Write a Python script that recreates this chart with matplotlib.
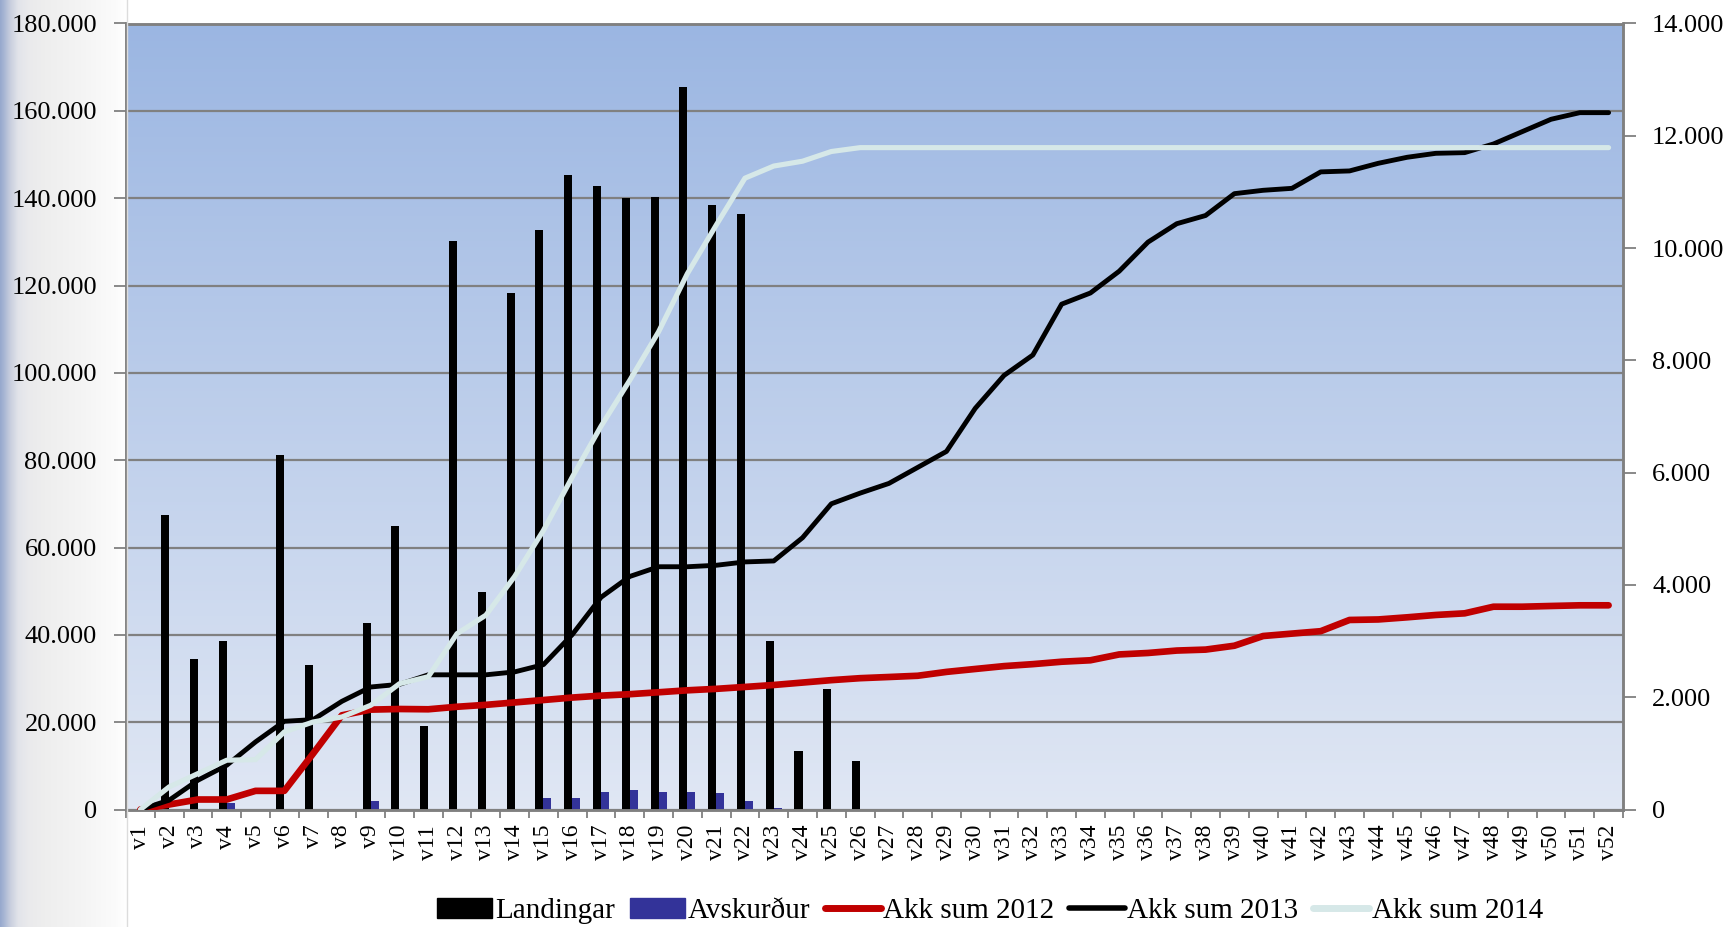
import numpy as np
import matplotlib
matplotlib.use("Agg")
import matplotlib.pyplot as plt
from matplotlib.lines import Line2D
from matplotlib.patches import Patch
from matplotlib.ticker import FuncFormatter, FixedLocator

plt.rcParams['font.family'] = ['Liberation Serif', 'DejaVu Serif']

weeks = [f"v{i}" for i in range(1, 53)]

landingar = [0, 67400, 34400, 38600, 0, 81200, 33200, 0, 42800, 64900,
             19200, 130200, 49800, 118200, 132600, 145300, 142800, 140000, 140300, 165400,
             138400, 136400, 38700, 13300, 27600, 11200] + [0] * 26

avskurdur = [0, 0, 0, 1600, 0, 0, 0, 0, 2000, 0,
             0, 0, 0, 0, 2700, 2600, 4000, 4500, 3900, 4050,
             3700, 1950, 400] + [0] * 29

akk_2012 = [0, 89, 178, 178, 332, 332, 996, 1678, 1779, 1790,
            1785, 1830, 1864, 1907, 1950, 1994, 2028, 2054, 2088, 2123,
            2149, 2183, 2218, 2261, 2304, 2339, 2360, 2382, 2451, 2503,
            2554, 2589, 2632, 2658, 2762, 2788, 2831, 2848, 2917, 3090,
            3133, 3176, 3376, 3385, 3423, 3465, 3494, 3612, 3612, 3625,
            3637, 3637]

akk_2013 = [0, 166, 522, 789, 1204, 1571, 1601, 1927, 2182, 2230,
            2399, 2399, 2399, 2451, 2580, 3115, 3780, 4151, 4324, 4324,
            4350, 4410, 4427, 4841, 5445, 5635, 5808, 6093, 6378, 7146,
            7732, 8095, 9001, 9200, 9588, 10106, 10434, 10580, 10969, 11029,
            11064, 11357, 11374, 11510, 11617, 11688, 11700, 11854, 12074, 12294,
            12412, 12412]

akk_2014 = [0, 403, 640, 878, 889, 1382, 1559, 1648, 1856, 2241,
            2365, 3133, 3461, 4151, 4971, 5920, 6826, 7646, 8509, 9545,
            10408, 11245, 11461, 11547, 11720, 11789] + [11789] * 26

left_ticks = list(range(0, 180001, 20000))
right_ticks = list(range(0, 14001, 2000))

W, H = 1735, 927
fig = plt.figure(figsize=(W / 100, H / 100), dpi=100)
fig.patch.set_facecolor('white')

# left decorative gradient strip
strip = fig.add_axes([0, 0, 126 / W, 1], zorder=-5)
xs = np.array([0, 4, 10, 18, 28, 45, 80, 115, 126]) / 126.0
cols = np.array([[150, 168, 205], [168, 182, 212], [200, 206, 222], [226, 228, 234],
                 [234, 234, 236], [238, 238, 238], [244, 244, 244], [251, 251, 251],
                 [255, 255, 255]]) / 255.0
gx = np.linspace(0, 1, 300)
grad = np.stack([np.interp(gx, xs, cols[:, c]) for c in range(3)], axis=-1)
strip.imshow(grad[np.newaxis, :, :], aspect='auto', extent=[0, 1, 0, 1])
strip.axis('off')
fig.add_artist(Line2D([127 / W, 127 / W], [0, 1], color='#dcdcdc', lw=1))

ax = fig.add_axes([126 / W, (H - 809.5) / H, (1623 - 126) / W, (809.5 - 23.5) / H])
ax.patch.set_visible(False)

# plot area vertical gradient
top = np.array([155, 182, 226]) / 255.0
bot = np.array([224, 231, 244]) / 255.0
gy = np.linspace(0, 1, 256)[:, None]
vgrad = top * (1 - gy) + bot * gy
ax.imshow(vgrad[:, None, :], aspect='auto', extent=[0, 1, 0, 1],
          transform=ax.transAxes, zorder=-10)

x = np.arange(len(weeks))
bw = 0.28
ax.bar(x - bw / 2, landingar, width=bw, color='black', zorder=2)
ax.bar(x + bw / 2, avskurdur, width=bw, color='#333399', zorder=2)

ax.set_xlim(-0.5, len(weeks) - 0.5)
ax.set_ylim(0, 180000)
ax.set_yticks(left_ticks)
fmt = FuncFormatter(lambda v, p: f"{int(v):,}".replace(",", "."))
ax.yaxis.set_major_formatter(fmt)
ax.yaxis.grid(True, color='#808080', lw=1.6, zorder=0.5)
ax.set_axisbelow(True)

ax.set_xticks(x)
ax.set_xticklabels(weeks, rotation=90, va='top', ha='center')
ax.xaxis.set_minor_locator(FixedLocator(np.arange(-0.5, len(weeks), 1.0)))
ax.tick_params(axis='x', which='major', length=0, pad=11, labelsize=17)
ax.tick_params(axis='x', which='minor', length=6, width=1.3, color='#808080', direction='out')
ax.tick_params(axis='y', length=9, width=1.3, color='#808080', pad=12, labelsize=19)

for s in ['left', 'right', 'bottom', 'top']:
    ax.spines[s].set_color('#808080')
    ax.spines[s].set_linewidth(1.8)

ax2 = ax.twinx()
ax2.plot(x, akk_2012, color='#C00000', lw=4.8, solid_capstyle='round', zorder=3)
ax2.plot(x, akk_2013, color='black', lw=3.5, solid_capstyle='round', zorder=4)
ax2.plot(x, akk_2014, color='#D6E8E8', lw=3.7, solid_capstyle='round', zorder=5)
ax2.set_ylim(0, 14000)
ax2.set_yticks(right_ticks)
ax2.yaxis.set_major_formatter(fmt)
ax2.tick_params(axis='y', length=9, width=1.3, color='#808080', pad=12, labelsize=19)
for s in ['left', 'right', 'bottom', 'top']:
    ax2.spines[s].set_color('#808080')
    ax2.spines[s].set_linewidth(1.8)

handles = [Patch(facecolor='black', edgecolor='black'),
           Patch(facecolor='#333399', edgecolor='#333399'),
           Line2D([], [], color='#C00000', lw=5, solid_capstyle='round'),
           Line2D([], [], color='black', lw=4, solid_capstyle='round'),
           Line2D([], [], color='#D6E8E8', lw=5, solid_capstyle='round')]
labels = ['Landingar', 'Avskurður', 'Akk sum 2012', 'Akk sum 2013', 'Akk sum 2014']
fig.legend(handles, labels, loc='center left', bbox_to_anchor=(437 / W, 1 - 911 / H),
           ncol=5, frameon=False, fontsize=21, handlelength=1.9, handleheight=0.7,
           handletextpad=0.1, columnspacing=0.5, borderpad=0, borderaxespad=0)

fig.savefig('out.png', dpi=100)
